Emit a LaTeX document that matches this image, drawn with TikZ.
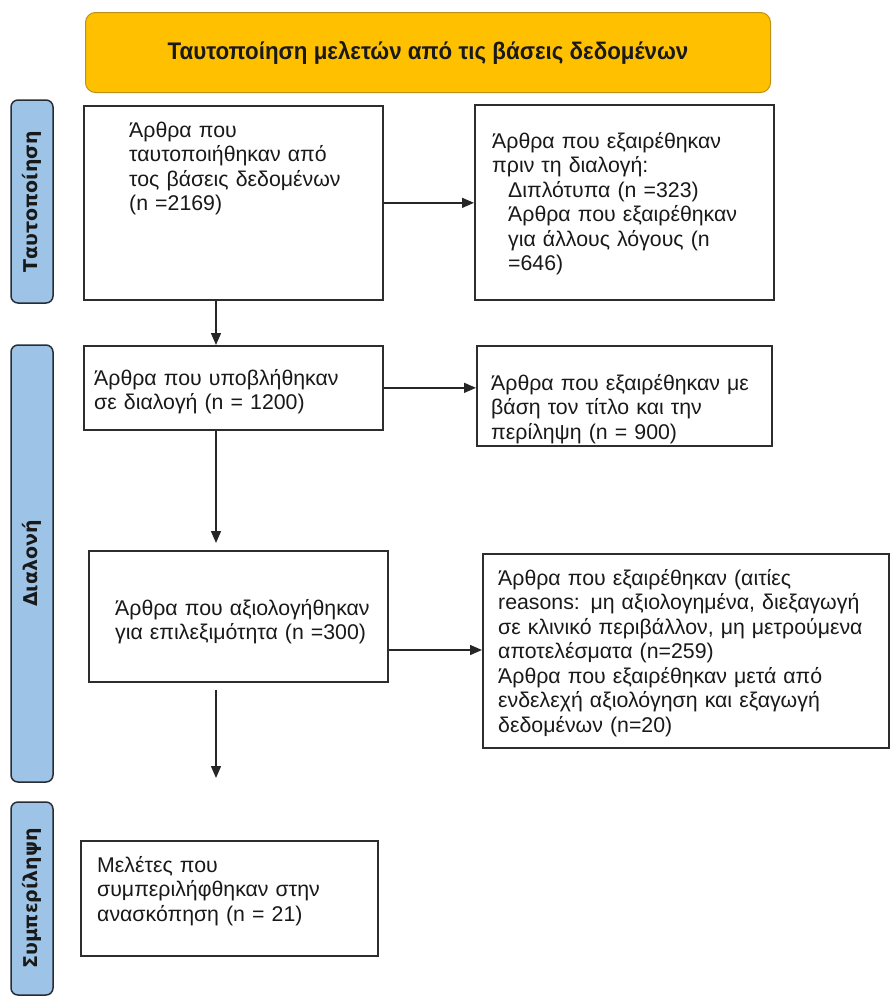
\documentclass[tikz,border=0pt]{standalone}
\usepackage{fontspec}
\setmainfont{Liberation Sans}
\newfontfamily\sidefont{DejaVu Sans}
\newfontfamily\hdrfont[FakeStretch=0.93]{Liberation Sans}
\usetikzlibrary{arrows.meta}
\definecolor{hdrfill}{RGB}{255,192,0}
\definecolor{hdrdraw}{RGB}{190,145,20}
\definecolor{barfill}{RGB}{157,195,230}
\definecolor{bardraw}{RGB}{40,44,52}
\definecolor{boxdraw}{RGB}{45,45,45}
\definecolor{inktext}{RGB}{25,25,25}
\begin{document}
\begin{tikzpicture}[x=1pt,y=-1pt]
\tikzset{
 flowbox/.style={draw=boxdraw, line width=1.7pt, fill=white, inner sep=0pt, anchor=north west},
 bodytext/.style={anchor=base west, inner sep=0pt, text width=420pt, align=left, text=inktext, font=\fontsize{21.3}{24.5}\selectfont},
 sidebar/.style={draw=bardraw, fill=barfill, line width=1.5pt, rounded corners=7pt, inner sep=0pt, rotate=90, minimum height=42pt, text=inktext, font=\sidefont\bfseries\fontsize{19}{21}\selectfont},
 arr/.style={draw=black!85, line width=1.4pt, -{Triangle[length=12pt,width=10pt]}},
}
\useasboundingbox (0,0) rectangle (890,996);
\clip (0,0) rectangle (890,996);

% header
\node[draw=hdrdraw, fill=hdrfill, rounded corners=10pt, line width=1pt, anchor=north west,
      minimum width=685pt, minimum height=80pt, inner sep=0pt, text=inktext,
      font=\hdrfont\bfseries\fontsize{24}{27}\selectfont] (hdr) at (85,12)
      {Ταυτοποίηση μελετών από τις βάσεις δεδομένων};

% side bars
\node[sidebar, minimum width=203pt] (s1) at (32,201.5) {Ταυτοποίηση};
\node[sidebar, minimum width=437pt] (s2) at (32,563.5) {Διαλονή};
\node[sidebar, minimum width=193pt] (s3) at (32,898.5) {Συμπερίληψη};

% boxes
\node[flowbox, minimum width=299pt, minimum height=194pt] (b1) at (83,105) {};
\node[flowbox, minimum width=299pt, minimum height=195pt] (b2) at (474,104) {};
\node[flowbox, minimum width=299pt, minimum height=84pt] (b3) at (83,345) {};
\node[flowbox, minimum width=295pt, minimum height=100pt] (b4) at (476,345) {};
\node[flowbox, minimum width=299pt, minimum height=131pt] (b5) at (88,550) {};
\node[flowbox, minimum width=406pt, minimum height=194pt] (b6) at (482,553) {};
\node[flowbox, minimum width=297pt, minimum height=115pt] (b7) at (80,840) {};

% texts
\node[bodytext] (t1) at (129,137) {Άρθρα που\\ταυτοποιήθηκαν από\\τος βάσεις δεδομένων\\(n =2169)};
\node[bodytext] (t2) at (492,148) {Άρθρα που εξαιρέθηκαν\\πριν τη διαλογή:\\\hspace*{16pt}Διπλότυπα (n =323)\\\hspace*{16pt}Άρθρα που εξαιρέθηκαν\\\hspace*{16pt}για άλλους λόγους (n\\\hspace*{16pt}=646)};
\node[bodytext] (t3) at (94,385) {Άρθρα που υποβλήθηκαν\\σε διαλογή (n = 1200)};
\node[bodytext] (t4) at (491,390) {Άρθρα που εξαιρέθηκαν με\\βάση τον τίτλο και την\\περίληψη (n = 900)};
\node[bodytext] (t5) at (115,615) {Άρθρα που αξιολογήθηκαν\\για επιλεξιμότητα (n =300)};
\node[bodytext] (t6) at (498,585) {Άρθρα που εξαιρέθηκαν (αιτίες\\reasons: μη αξιολογημένα, διεξαγωγή\\σε κλινικό περιβάλλον, μη μετρούμενα\\αποτελέσματα (n=259)\\Άρθρα που εξαιρέθηκαν μετά από\\ενδελεχή αξιολόγηση και εξαγωγή\\δεδομένων (n=20)};
\node[bodytext] (t7) at (97,872) {Μελέτες που\\συμπεριλήφθηκαν στην\\ανασκόπηση (n = 21)};

% connectors
\coordinate (vx) at (216,0);
\coordinate (y650) at (0,650);
\coordinate (endpt) at (216,778);
\draw[arr] (b1.east) -- (b1.east -| b2.west);
\draw[arr] (vx |- b1.south) -- (vx |- b3.north);
\draw[arr] (b3.east) -- (b3.east -| b4.west);
\draw[arr, shorten >=7pt] (vx |- b3.south) -- (vx |- b5.north);
\draw[arr] (b5.east |- y650) -- (b6.west |- y650);
\draw[arr, shorten <=7pt] (vx |- b5.south) -- (endpt);
\end{tikzpicture}
\end{document}
